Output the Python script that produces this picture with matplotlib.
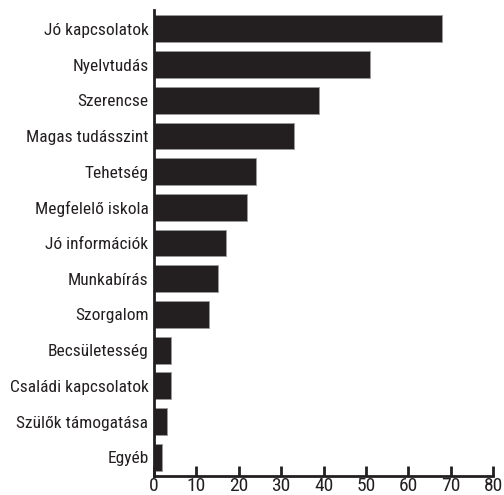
import matplotlib.pyplot as plt
from matplotlib import font_manager

# Adatok
kategoriak = ['Jó kapcsolatok', 'Nyelvtudás', 'Szerencse', 'Magas tudásszint',
              'Tehetség', 'Megfelelő iskola', 'Jó információk', 'Munkabírás',
              'Szorgalom', 'Becsületesség', 'Családi kapcsolatok',
              'Szülők támogatása', 'Egyéb']
ertekek = [68, 51, 39, 33, 24, 22, 17, 15, 13, 4, 4, 3, 2]
xticks = [0, 10, 20, 30, 40, 50, 60, 70, 80]

# keskeny betűtípus keresése (Roboto Condensed, ha van)
jeloltek = []
for f in font_manager.fontManager.ttflist:
    fn = f.fname.lower()
    if ('narrow' in fn or 'condensed' in fn) and 'bold' not in fn and 'italic' not in fn \
            and 'oblique' not in fn and 'light' not in fn:
        jeloltek.append(f)
jeloltek.sort(key=lambda f: (0 if 'liberation' in f.fname.lower() else
                             1 if 'roboto' in f.fname.lower() else 2, f.fname))
if jeloltek:
    fp = font_manager.FontProperties(fname=jeloltek[0].fname)
else:
    fp = font_manager.FontProperties(family='DejaVu Sans')

fig = plt.figure(figsize=(5.04, 4.95), dpi=100)
ax = fig.add_axes([0.3056, 0.038, 0.6726, 0.942])

szin = '#231f20'
y = list(range(len(kategoriak)))
ax.barh(y, ertekek, height=0.75, color=szin, edgecolor='#9a9a9a', linewidth=0.6)

ax.set_ylim(len(kategoriak) - 0.47, -0.53)
ax.set_xlim(0, 80)
ax.set_yticks(y)
ax.set_yticklabels(kategoriak, fontproperties=fp, fontsize=12.5, color=szin)
ax.set_xticks(xticks)
ax.set_xticklabels([str(v) for v in xticks], fontproperties=fp, fontsize=14, color=szin)

for s in ['top', 'right']:
    ax.spines[s].set_visible(False)
for s in ['left', 'bottom']:
    ax.spines[s].set_linewidth(2)
    ax.spines[s].set_color(szin)

ax.tick_params(axis='y', length=0, pad=4)
ax.tick_params(axis='x', direction='in', length=7, width=2, color=szin, pad=0.5)

fig.savefig('out.png', dpi=100)
